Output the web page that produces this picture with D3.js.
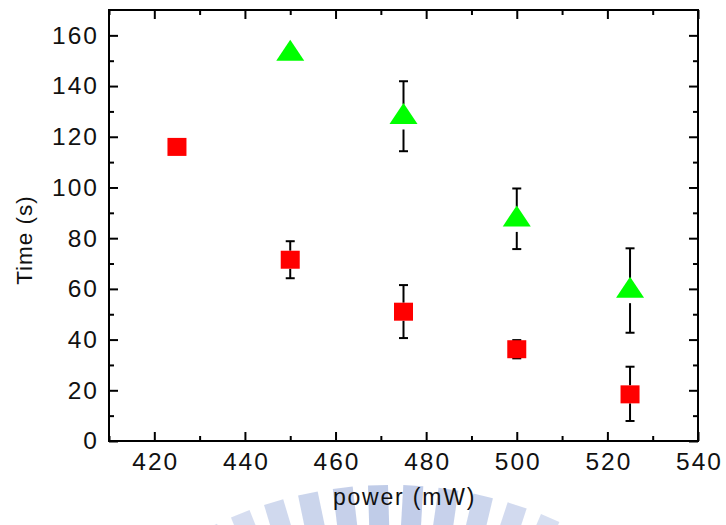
<!DOCTYPE html>
<html>
<head>
<meta charset="utf-8">
<script src="https://cdn.jsdelivr.net/npm/d3@7"></script>
<style>
  html, body { margin: 0; padding: 0; background: #fff; }
  svg { display: block; }
  text { font-family: "Liberation Sans", Arial, sans-serif; fill: #111; }
</style>
</head>
<body>
<svg id="chart" width="726" height="525"></svg>
<script>
// power (mW) vs time (s), two series with error bars

var squarePower = [425, 450, 475, 500, 525];
var squareTime  = [116, 71.5, 51, 36.2, 18.4];
var squareLow   = [116, 64.2, 40.6, 32.6, 7.9];
var squareHigh  = [116, 78.8, 61.5, 39.8, 29.3];

var trianglePower = [450, 475, 500, 525];
var triangleTime  = [152.7, 127.8, 87.4, 59.3];
var triangleLow   = [152.7, 114.3, 75.7, 42.7];
var triangleHigh  = [152.7, 141.9, 99.6, 76.0];

var xTicks = [420, 440, 460, 480, 500, 520, 540];
var xMinor = [410, 430, 450, 470, 490, 510, 530];
var yTicks = [0, 20, 40, 60, 80, 100, 120, 140, 160];
var yMinor = [10, 30, 50, 70, 90, 110, 130, 150];

var svg = d3.select("#chart");
var margin = { left: 109, top: 10, right: 28, bottom: 84 };
var W = 726, H = 525;

var x = d3.scaleLinear().domain([410, 540]).range([margin.left, W - margin.right]);
var y = d3.scaleLinear().domain([0, 170]).range([H - margin.bottom, margin.top]);

// --- faint watermark logo at the bottom ---
var wm = svg.append("g").attr("class", "watermark");
var cx = 390, cy = 890, rIn = 300, rOut = 405;
d3.range(-36.7, 40, 5).forEach(function (a) {
  var fade = 1 - Math.abs(a) / 60;
  wm.append("rect")
    .attr("x", -10)
    .attr("y", -rOut)
    .attr("width", 20)
    .attr("height", rOut - rIn)
    .attr("fill", "#aebde2")
    .attr("opacity", 0.8 * fade)
    .attr("transform", "translate(" + cx + "," + cy + ") rotate(" + a + ")");
});

// --- axes (ticks pointing inward on all four sides) ---
var plot = svg.append("g");

function styleAxis(g) {
  g.select(".domain").remove();
  g.selectAll("line").attr("stroke", "#000").attr("stroke-width", 2);
  g.selectAll("text")
    .style("font-size", "24.5px")
    .style("letter-spacing", "2px")
    .attr("fill", "#151515");
}

var bottomY = H - margin.bottom, topY = margin.top;
var leftX = margin.left, rightX = W - margin.right;

plot.append("g")
  .attr("transform", "translate(0," + bottomY + ")")
  .call(d3.axisBottom(x).tickValues(xTicks).tickSize(-9).tickPadding(12).tickFormat(d3.format("d")))
  .call(styleAxis)
  .selectAll("text").attr("dx", "1px").attr("dy", "0.71em");

plot.append("g")
  .attr("transform", "translate(0," + bottomY + ")")
  .call(d3.axisBottom(x).tickValues(xMinor).tickSize(-5).tickFormat(""))
  .call(styleAxis);

plot.append("g")
  .attr("transform", "translate(0," + topY + ")")
  .call(d3.axisTop(x).tickValues(xTicks).tickSize(-9).tickFormat(""))
  .call(styleAxis);
plot.append("g")
  .attr("transform", "translate(0," + topY + ")")
  .call(d3.axisTop(x).tickValues(xMinor).tickSize(-5).tickFormat(""))
  .call(styleAxis);

plot.append("g")
  .attr("transform", "translate(" + leftX + ",0)")
  .call(d3.axisLeft(y).tickValues(yTicks).tickSize(-9).tickPadding(12).tickFormat(d3.format("d")))
  .call(styleAxis)
  .selectAll("text").attr("dx", "2px");

plot.append("g")
  .attr("transform", "translate(" + leftX + ",0)")
  .call(d3.axisLeft(y).tickValues(yMinor).tickSize(-5).tickFormat(""))
  .call(styleAxis);

plot.append("g")
  .attr("transform", "translate(" + rightX + ",0)")
  .call(d3.axisRight(y).tickValues(yTicks).tickSize(-9).tickFormat(""))
  .call(styleAxis);
plot.append("g")
  .attr("transform", "translate(" + rightX + ",0)")
  .call(d3.axisRight(y).tickValues(yMinor).tickSize(-5).tickFormat(""))
  .call(styleAxis);

// frame
plot.append("rect")
  .attr("x", leftX).attr("y", topY)
  .attr("width", rightX - leftX).attr("height", bottomY - topY)
  .attr("fill", "none").attr("stroke", "#000").attr("stroke-width", 2);

// --- axis titles ---
svg.append("text")
  .attr("x", (leftX + rightX) / 2 + 1)
  .attr("y", 505)
  .attr("text-anchor", "middle")
  .style("font-size", "23px")
  .style("letter-spacing", "1.8px")
  .text("power (mW)");

svg.append("text")
  .attr("transform", "translate(32,240) rotate(-90)")
  .attr("text-anchor", "middle")
  .style("font-size", "22.5px")
  .style("letter-spacing", "1px")
  .text("Time (s)");

// --- error bars (gap around the symbol, like the original) ---
function errorBars(px, val, lo, hi, gap) {
  var g = svg.append("g");
  px.forEach(function (p, i) {
    var cxp = x(p), cyp = y(val[i]);
    var yTop = y(hi[i]), yBot = y(lo[i]);
    if (hi[i] === lo[i]) return;
    if (cyp - gap > yTop) {
      g.append("line").attr("x1", cxp).attr("x2", cxp)
        .attr("y1", yTop).attr("y2", cyp - gap)
        .attr("stroke", "#000").attr("stroke-width", 2);
    }
    if (cyp + gap < yBot) {
      g.append("line").attr("x1", cxp).attr("x2", cxp)
        .attr("y1", cyp + gap).attr("y2", yBot)
        .attr("stroke", "#000").attr("stroke-width", 2);
    }
    [yTop, yBot].forEach(function (yy) {
      g.append("line").attr("x1", cxp - 4.5).attr("x2", cxp + 4.5)
        .attr("y1", yy).attr("y2", yy)
        .attr("stroke", "#000").attr("stroke-width", 2);
    });
  });
}

errorBars(squarePower, squareTime, squareLow, squareHigh, 9);
errorBars(trianglePower, triangleTime, triangleLow, triangleHigh, 12.5);

// --- symbols ---
svg.append("g").selectAll("rect")
  .data(squarePower)
  .join("rect")
  .attr("x", function (d) { return x(d) - 9.5; })
  .attr("y", function (d, i) { return y(squareTime[i]) - 9; })
  .attr("width", 19)
  .attr("height", 18)
  .attr("fill", "#ff0000");

svg.append("g").selectAll("path")
  .data(trianglePower)
  .join("path")
  .attr("d", function (d, i) {
    var px = x(d), py = y(triangleTime[i]);
    return "M" + px + "," + (py - 14) +
      "L" + (px + 14) + "," + (py + 7) +
      "L" + (px - 14) + "," + (py + 7) + "Z";
  })
  .attr("fill", "#00ff00");
</script>
</body>
</html>
